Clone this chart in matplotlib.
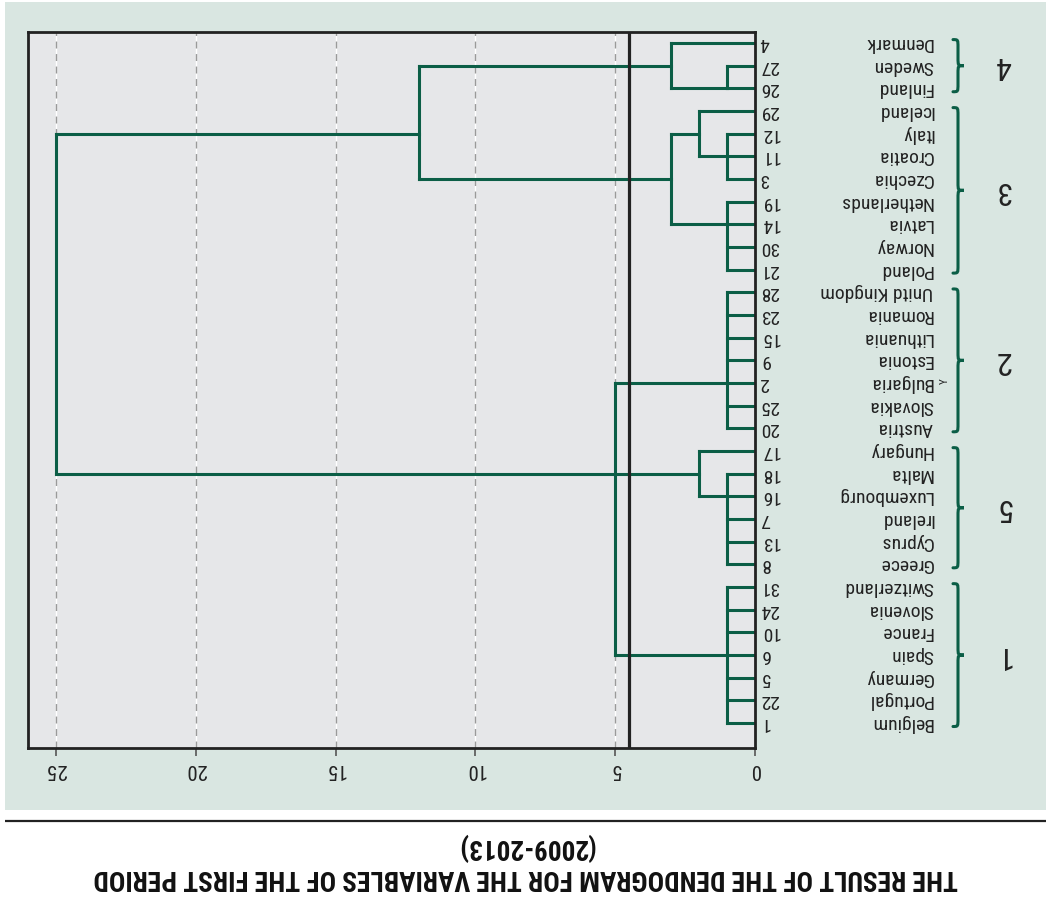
import matplotlib
matplotlib.use("Agg")
import matplotlib.pyplot as plt
from matplotlib import font_manager, transforms
from matplotlib.path import Path
from matplotlib.patches import PathPatch, Rectangle

# ---- data -------------------------------------------------------------
countries = ["Denmark", "Sweden", "Finland", "Iceland", "Italy", "Croatia",
             "Czechia", "Netherlands", "Latvia", "Norway", "Poland",
             "Unitd Kingdom", "Romania", "Lithuania", "Estonia", "Bulgaria",
             "Slovakia", "Austria", "Hungary", "Malta", "Luxembourg",
             "Ireland", "Cyprus", "Greece", "Switzerland", "Slovenia",
             "France", "Spain", "Germany", "Portugal", "Belgium"]
country_ids = [4, 27, 26, 29, 12, 11, 3, 19, 14, 30, 21, 28, 23, 15, 9, 2,
               25, 20, 17, 18, 16, 7, 13, 8, 31, 24, 10, 6, 5, 22, 1]

# agglomeration steps: name -> (members, rescaled distance, row the link leaves from)
merge_names = ["n1", "c4", "n2", "n3", "n4", "c3", "n5", "c2", "n6", "c5",
               "c1", "n7", "root"]
merge_members = [
    ["Sweden", "Finland"],
    ["Denmark", "n1"],
    ["Italy", "Croatia", "Czechia"],
    ["Iceland", "n2"],
    ["Netherlands", "Latvia", "Norway", "Poland"],
    ["n3", "n4"],
    ["c4", "c3"],
    ["Unitd Kingdom", "Romania", "Lithuania", "Estonia", "Bulgaria",
     "Slovakia", "Austria"],
    ["Malta", "Luxembourg", "Ireland", "Cyprus", "Greece"],
    ["Hungary", "n6"],
    ["Switzerland", "Slovenia", "France", "Spain", "Germany", "Portugal",
     "Belgium"],
    ["c2", "c5", "c1"],
    ["n5", "n7"],
]
merge_heights = [1, 3, 1, 2, 1, 3, 12, 1, 1, 2, 1, 5, 25]
merge_outlets = ["Finland", "Sweden", "Croatia", "Italy", "Latvia", "Czechia",
                 "Italy", "Bulgaria", "Luxembourg", "Malta", "Spain", "Malta",
                 None]

cut_distance = 4.5
x_ticks = [0, 5, 10, 15, 20, 25]

cluster_labels = ["4", "3", "2", "5", "1"]
cluster_first = ["Denmark", "Iceland", "Unitd Kingdom", "Hungary", "Switzerland"]
cluster_last = ["Finland", "Poland", "Austria", "Greece", "Belgium"]

title_lines = ["(2009-2013)",
               "THE RESULT OF THE DENDOGRAM FOR THE VARIABLES OF THE FIRST PERIOD"]

# ---- style ------------------------------------------------------------
available = {f.name for f in font_manager.fontManager.ttflist}


def families(*names):
    return [n for n in names if n in available] + ["DejaVu Sans"]


narrow = families("Liberation Sans Narrow", "Roboto Condensed", "Liberation Sans")
GREEN = "#0b5e46"
PANEL = "#d9e6e1"
PLOT_BG = "#e6e7e9"
INK = "#222222"

W, H = 1046, 899
fig = plt.figure(figsize=(W / 100, H / 100), dpi=100)
fig.patch.set_facecolor("white")

# full-figure canvas in pixel units for the framing elements
canvas = fig.add_axes([0, 0, 1, 1], zorder=0)
canvas.set_xlim(0, W)
canvas.set_ylim(H, 0)
canvas.axis("off")
canvas.add_patch(Rectangle((5, 2), W - 5, 808, facecolor=PANEL, edgecolor="none"))
canvas.plot([5, W], [821, 821], color=INK, lw=1.6, solid_capstyle="butt")

# dendrogram axes
x0, x1, y0, y1 = 28, 755, 32, 748
ax = fig.add_axes([x0 / W, 1 - y1 / H, (x1 - x0) / W, (y1 - y0) / H], zorder=1)
ax.set_facecolor(PLOT_BG)
row_top, row_step = 43.0, 22.67
ax.set_ylim((y1 - row_top) / row_step, (y0 - row_top) / row_step)
ax.set_xlim(26, 0)
for s in ax.spines.values():
    s.set_color(INK)
    s.set_linewidth(2.0)
ax.set_yticks([])
ax.set_xticks(x_ticks)
ax.set_xticklabels([str(t) for t in x_ticks], rotation=180,
                   fontfamily=narrow, fontsize=15, color=INK)
ax.tick_params(axis="x", length=6, width=1.2, color="#555555", pad=3)

# dashed guide lines
for t in x_ticks[1:]:
    ax.axvline(t, color="white", lw=1.0, zorder=0.5)
    ax.axvline(t, color="#9a9a9a", lw=1.0, dashes=(5, 4), zorder=0.6)

# ---- tree ---------------------------------------------------------------
row_of = {c: i for i, c in enumerate(countries)}
node_height = {c: 0.0 for c in countries}
node_row = dict(row_of)
for name, members, h, outlet in zip(merge_names, merge_members,
                                    merge_heights, merge_outlets):
    rows = [node_row[m] for m in members]
    for m in members:
        ax.plot([node_height[m], h], [node_row[m], node_row[m]], color=GREEN,
                lw=2.2, solid_capstyle="projecting", zorder=2)
    ax.plot([h, h], [min(rows), max(rows)], color=GREEN, lw=2.2,
            solid_capstyle="projecting", zorder=2)
    node_height[name] = h
    node_row[name] = row_of[outlet] if outlet else (min(rows) + max(rows)) / 2

ax.axvline(cut_distance, color=INK, lw=2.3, zorder=3)

# ---- labels ---------------------------------------------------------------
mix = transforms.blended_transform_factory(canvas.transData, ax.transData)
for i, (c, n) in enumerate(zip(countries, country_ids)):
    canvas.text(760, i, str(n), transform=mix, rotation=180, ha="left",
                va="center", fontfamily=narrow, fontsize=14, color=INK, zorder=5)
    canvas.text(933, i, c, transform=mix, rotation=180, ha="right",
                va="center", fontfamily=narrow, fontsize=14, color=INK, zorder=5)
canvas.text(940, row_of["Bulgaria"] - 0.1, "Y", transform=mix, rotation=90,
            ha="left", va="center", fontfamily=narrow, fontsize=8,
            color=INK, zorder=5)


def brace(r0, r1, xe=953, xs=958, xt=964, r=0.35):
    rm = (r0 + r1) / 2
    verts = [(xe, r0), (xs, r0), (xs, r0), (xs, r0 + r),
             (xs, rm - r), (xs, rm), (xs, rm), (xt, rm),
             (xs, rm), (xs, rm), (xs, rm + r),
             (xs, r1 - r), (xs, r1), (xs, r1), (xe, r1)]
    codes = [Path.MOVETO, Path.CURVE4, Path.CURVE4, Path.CURVE4,
             Path.LINETO, Path.CURVE4, Path.CURVE4, Path.CURVE4,
             Path.CURVE4, Path.CURVE4, Path.CURVE4,
             Path.LINETO, Path.CURVE4, Path.CURVE4, Path.CURVE4]
    return PathPatch(Path(verts, codes), transform=mix, facecolor="none",
                     edgecolor=GREEN, lw=2.2, capstyle="round", zorder=5)


for lab, a, b in zip(cluster_labels, cluster_first, cluster_last):
    r0, r1 = row_of[a] - 0.15, row_of[b] + 0.15
    canvas.add_patch(brace(r0, r1))
    canvas.text(1003, (r0 + r1) / 2, lab, transform=mix, rotation=180,
                ha="center", va="center", fontfamily=narrow, fontsize=23,
                color=INK, zorder=5)

# ---- caption ------------------------------------------------------------
renderer = fig.canvas.get_renderer()
cap_y = [846, 878]
cap_w = [138, 862]
for txt, y, wt in zip(title_lines, cap_y, cap_w):
    t = canvas.text(526, y, txt, rotation=180, ha="center", va="center",
                    fontfamily=narrow, fontweight="bold", fontsize=18, color="#111111")
    w = t.get_window_extent(renderer).width
    t.set_fontsize(18 * wt / w)

fig.savefig("out.png", dpi=100, facecolor=fig.get_facecolor())
